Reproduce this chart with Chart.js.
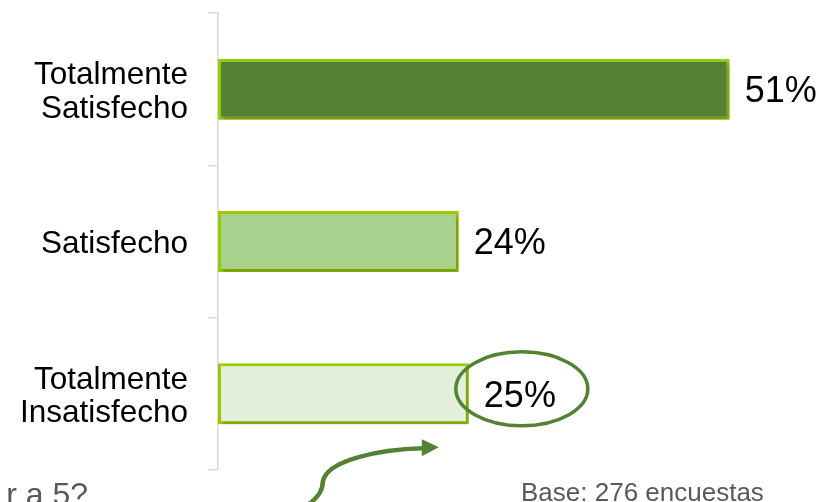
<!DOCTYPE html>
<html>
<head>
<meta charset="utf-8">
<script src="https://cdn.jsdelivr.net/npm/chart.js@4.4.0/dist/chart.umd.min.js"></script>
<style>
  html, body { margin: 0; padding: 0; background: #fff; }
  #wrap { position: relative; width: 826px; height: 502px; overflow: hidden; }
</style>
</head>
<body>
<div id="wrap"><canvas id="chart" width="826" height="502"></canvas></div>
<script>
// data
const categories = [["Totalmente", "Satisfecho"], "Satisfecho", ["Totalmente", "Insatisfecho"]];
const percentages = [51, 24, 25];
const fillColors = ['#548235', '#a9d18e', '#e2efda'];
const borderColor = '#99cc00';
const baseNote = 'Base: 276 encuestas';
const cutTitle = 'r a 5?';

const FONT = '"Liberation Sans", Arial, sans-serif';

// soft shadow under the bars
const barShadow = {
    id: 'barShadow',
    beforeDatasetsDraw(chart) {
        const ctx = chart.ctx;
        ctx.save();
        ctx.shadowColor = 'rgba(0,0,0,0.25)';
        ctx.shadowBlur = 4;
        ctx.shadowOffsetX = 2;
        ctx.shadowOffsetY = 3;
    },
    afterDatasetsDraw(chart) {
        chart.ctx.restore();
    }
};

// value labels, ellipse, arrow and notes
const annotations = {
    id: 'annotations',
    afterDraw(chart) {
        const ctx = chart.ctx;
        const bars = chart.getDatasetMeta(0).data;
        ctx.save();
        ctx.fillStyle = '#000';
        ctx.font = '36px ' + FONT;
        ctx.textAlign = 'left';
        ctx.textBaseline = 'middle';
        bars.forEach((bar, i) => {
            ctx.fillText(percentages[i] + '%', bar.x + 15, bar.y + 3);
        });

        // ellipse round the last value
        const last = bars[2];
        ctx.strokeStyle = '#548235';
        ctx.lineWidth = 3.5;
        ctx.beginPath();
        ctx.ellipse(last.x + 53, last.y - 5, 66, 37, 0, 0, Math.PI * 2);
        ctx.stroke();

        // curved arrow
        const bx = last.x, by = last.y + last.height / 2;
        ctx.lineWidth = 4.5;
        ctx.lineCap = 'round';
        ctx.beginPath();
        ctx.moveTo(bx - 160, by + 80);
        ctx.bezierCurveTo(bx - 150, by + 72, bx - 146, by + 66, bx - 146, by + 57);
        ctx.bezierCurveTo(bx - 142, by + 36, bx - 90, by + 25, bx - 46, by + 24);
        ctx.stroke();
        ctx.fillStyle = '#548235';
        ctx.beginPath();
        ctx.moveTo(bx - 30, by + 23);
        ctx.lineTo(bx - 47, by + 15);
        ctx.lineTo(bx - 47, by + 32);
        ctx.closePath();
        ctx.fill();

        // notes
        ctx.fillStyle = '#595959';
        ctx.textBaseline = 'alphabetic';
        ctx.font = '26px ' + FONT;
        ctx.fillText(baseNote, 521, 501);
        ctx.font = '32px ' + FONT;
        ctx.textAlign = 'right';
        ctx.fillText(cutTitle, 88, 505);
        ctx.restore();
    }
};

new Chart(document.getElementById('chart'), {
    type: 'bar',
    data: {
        labels: categories,
        datasets: [{
            data: percentages,
            backgroundColor: fillColors,
            borderColor: borderColor,
            borderWidth: 3,
            borderSkipped: false,
            barPercentage: 0.4,
            categoryPercentage: 1
        }]
    },
    options: {
        indexAxis: 'y',
        responsive: false,
        animation: false,
        layout: { padding: { top: 13, bottom: 32, right: 6, left: 0 } },
        plugins: {
            legend: { display: false },
            tooltip: { enabled: false }
        },
        scales: {
            x: {
                display: false,
                min: 0,
                max: 60
            },
            y: {
                afterFit(scale) {
                    scale.width = 218;
                    scale.paddingTop = 0;
                    scale.paddingBottom = 0;
                },
                border: { display: true, color: '#d9d9d9', width: 1.5 },
                grid: {
                    offset: true,
                    drawOnChartArea: false,
                    drawTicks: true,
                    tickLength: 10,
                    color: '#d9d9d9',
                    lineWidth: 1.5
                },
                ticks: {
                    color: '#000',
                    padding: 20,
                    labelOffset: 3,
                    font: { family: FONT, size: 31.5, lineHeight: 1.07 }
                }
            }
        }
    },
    plugins: [barShadow, annotations]
});
</script>
</body>
</html>
